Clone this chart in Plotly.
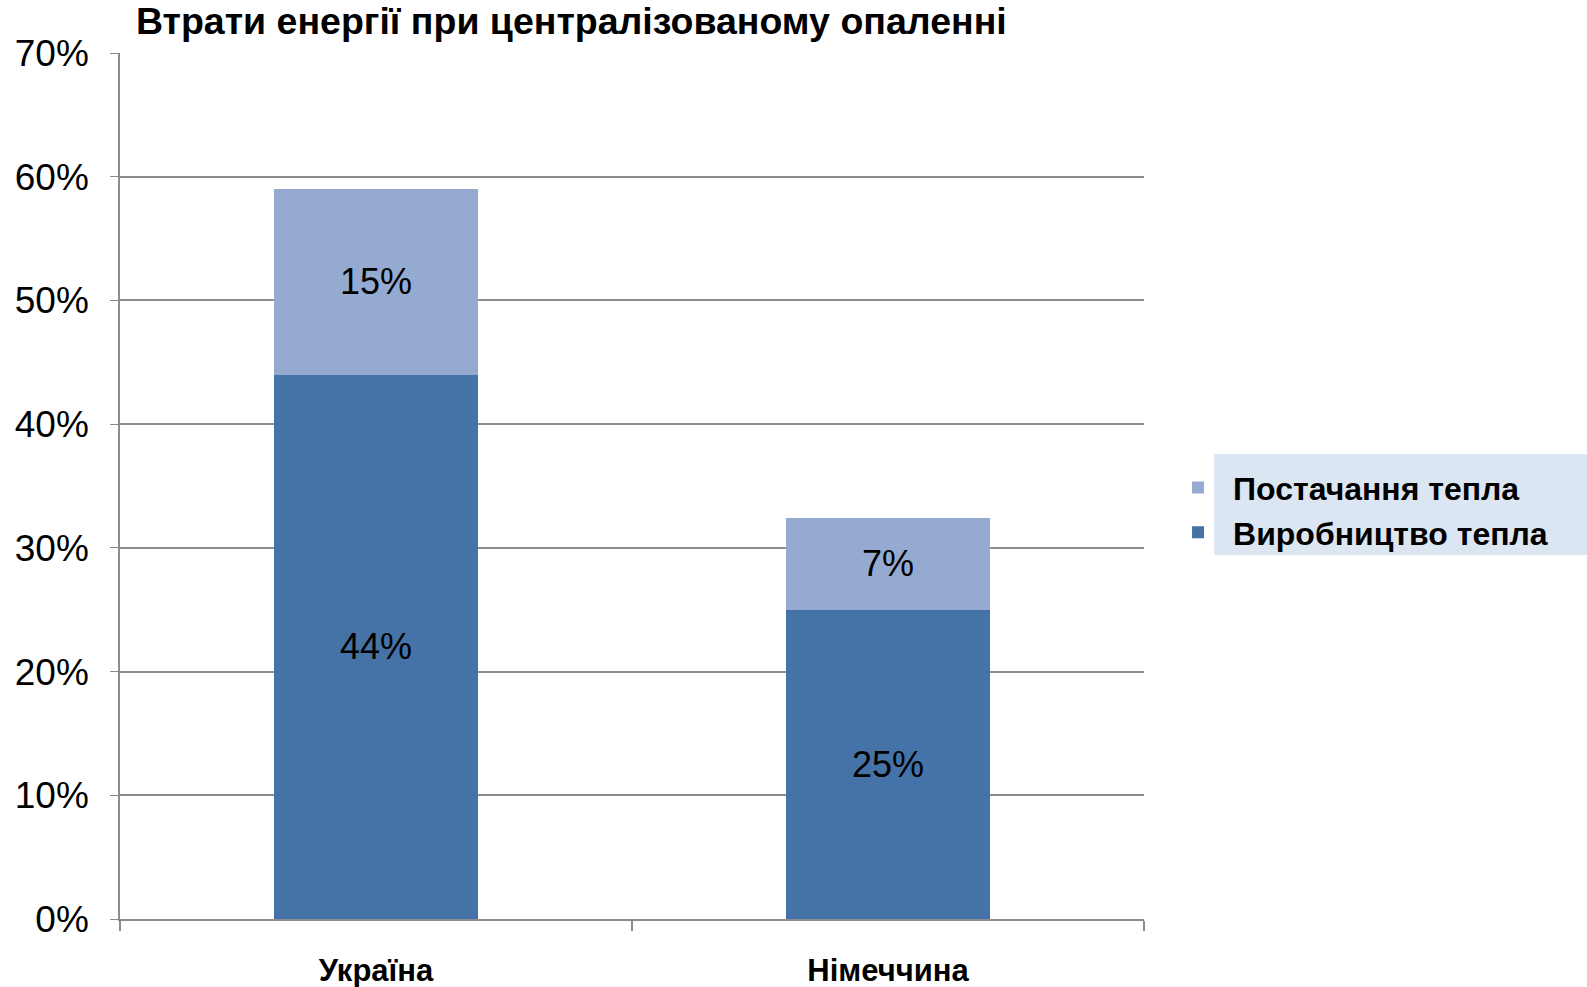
import plotly.graph_objects as go

categories = ["Україна", "Німеччина"]
production = [44, 25]
supply = [15, 7.4]
series_names = ["Виробництво тепла", "Постачання тепла"]
y_ticks = [0, 10, 20, 30, 40, 50, 60, 70]

FONT = "Liberation Sans, Arial, sans-serif"
DARK = "#4573A7"
LIGHT = "#95AAD0"
GRID = "#8C8C8C"

fig = go.Figure()
for i, (name, vals, col) in enumerate([(series_names[0], production, DARK), (series_names[1], supply, LIGHT)]):
    fig.add_trace(go.Bar(
        x=categories, y=vals, name=name, marker=dict(color=col, line=dict(width=0)),
        texttemplate="%{y:.0f}%", textposition="inside", insidetextanchor="middle",
        textfont=dict(family=FONT, size=36, color="black"),
        width=0.4, legendgroup=f"g{i}",
    ))

fig.update_layout(
    barmode="stack",
    width=1587, height=987,
    margin=dict(l=120, r=443, t=53, b=68, autoexpand=False),
    plot_bgcolor="white", paper_bgcolor="white",
    font=dict(family=FONT, color="black"),
    title=dict(text="<b>Втрати енергії при централізованому опаленні</b>",
               font=dict(family=FONT, size=37.5, color="black"),
               x=136/1587, xanchor="left", xref="container",
               y=1-21/987, yanchor="middle", yref="container"),
    uniformtext=dict(minsize=36, mode="show"),
    showlegend=True,
    legend=dict(traceorder="reversed", x=1.0186, xanchor="left", y=0.472, yanchor="middle",
                font=dict(family=FONT, size=32, color="black", weight="bold"),
                bgcolor="rgba(0,0,0,0)", tracegroupgap=10, itemwidth=60),
    shapes=[dict(type="rect", xref="paper", yref="paper", x0=(1214-120)/1024, x1=(1590-120)/1024,
                 y0=(919-555)/866, y1=(919-454)/866, fillcolor="#DCE6F2", line=dict(width=0), layer="below")],
)
fig.update_xaxes(
    automargin=False,
    showline=True, linecolor=GRID, linewidth=2, ticks="outside", tickson="boundaries",
    ticklen=10, tickcolor=GRID, tickwidth=1.5, showgrid=False,
    tickfont=dict(family=FONT, size=31, color="black", weight="bold"),
    ticklabelstandoff=23,
)
fig.update_yaxes(
    automargin=False,
    range=[0, 70], tickvals=y_ticks, ticktext=[f"{v}%" for v in y_ticks],
    showgrid=True, gridcolor=GRID, gridwidth=2, zeroline=False,
    showline=True, linecolor=GRID, linewidth=1.5, ticks="outside", ticklen=8, tickcolor=GRID,
    tickfont=dict(family=FONT, size=37, color="black"), ticklabelstandoff=14,
)

fig.write_html("out.html", config={"displayModeBar": False},
               post_script="document.body.style.margin='0px';document.body.style.overflow='hidden';")
